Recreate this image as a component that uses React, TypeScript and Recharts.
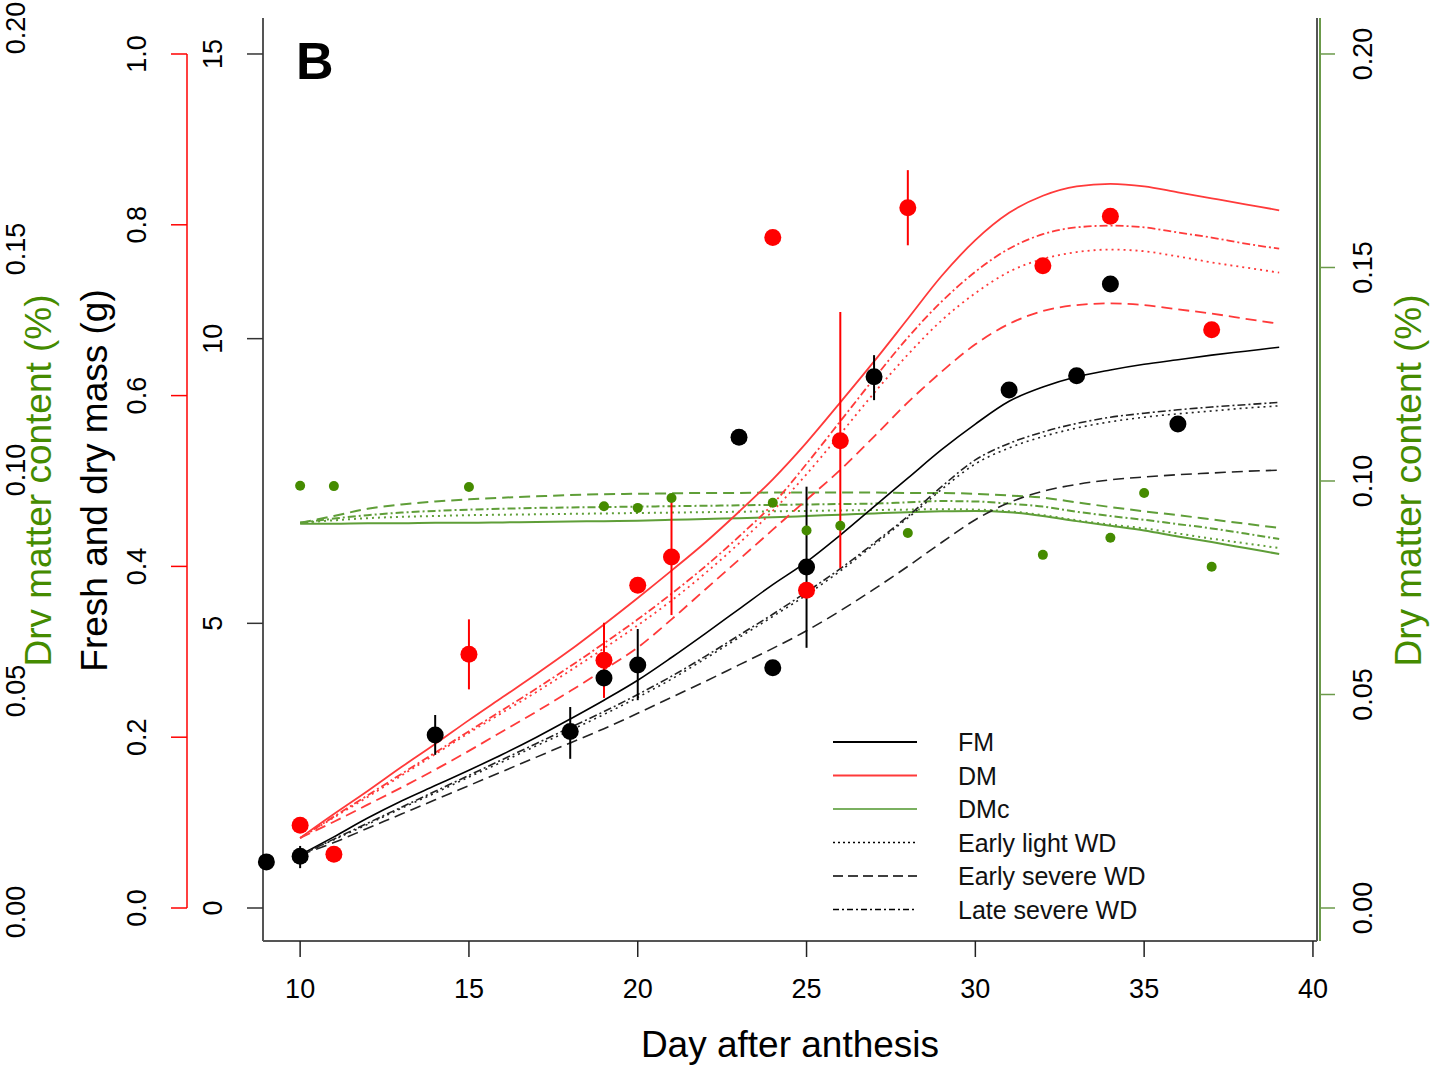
import React from 'react';
import { ComposedChart, Line, Scatter, XAxis, YAxis, ErrorBar, Legend } from 'recharts';

const FONT = '"Liberation Sans", Arial, Helvetica, sans-serif';

// ---------- fitted curves (days after anthesis 10..39) ----------
const curveDays = [10,11,12,13,14,15,16,17,18,19,20,21,22,23,24,25,26,27,28,29,30,31,32,33,34,35,36,37,38,39];

const fmControl = [0.93,1.25,1.58,1.88,2.15,2.42,2.70,3.00,3.32,3.65,4.00,4.40,4.82,5.25,5.68,6.08,6.55,7.05,7.55,8.05,8.50,8.90,9.15,9.33,9.45,9.55,9.63,9.71,9.78,9.85];
const fmEarlyLight = [0.93,1.20,1.47,1.75,2.02,2.30,2.57,2.85,3.12,3.40,3.70,4.02,4.38,4.75,5.12,5.50,5.92,6.38,6.85,7.35,7.80,8.08,8.28,8.43,8.54,8.62,8.68,8.73,8.78,8.82];
const fmEarlySevere = [0.93,1.15,1.40,1.65,1.90,2.15,2.40,2.65,2.90,3.15,3.42,3.70,3.98,4.27,4.56,4.87,5.22,5.60,6.00,6.42,6.82,7.12,7.32,7.44,7.52,7.57,7.61,7.64,7.67,7.69];
const fmLateSevere = [0.93,1.21,1.49,1.77,2.05,2.33,2.61,2.89,3.17,3.45,3.75,4.07,4.42,4.79,5.16,5.55,5.96,6.41,6.88,7.40,7.87,8.16,8.36,8.51,8.62,8.69,8.75,8.80,8.84,8.88];

const dmControl = [0.082,0.110,0.137,0.165,0.192,0.220,0.247,0.274,0.302,0.332,0.363,0.395,0.428,0.464,0.502,0.545,0.592,0.640,0.690,0.740,0.782,0.814,0.834,0.845,0.848,0.845,0.838,0.831,0.824,0.817];
const dmEarlyLight = [0.082,0.106,0.130,0.155,0.180,0.205,0.229,0.253,0.278,0.304,0.331,0.360,0.392,0.427,0.465,0.508,0.555,0.603,0.648,0.688,0.720,0.745,0.760,0.768,0.771,0.769,0.763,0.756,0.750,0.744];
const dmEarlySevere = [0.082,0.101,0.121,0.141,0.162,0.184,0.207,0.230,0.254,0.279,0.305,0.338,0.373,0.408,0.443,0.478,0.513,0.552,0.592,0.628,0.660,0.684,0.699,0.706,0.708,0.706,0.701,0.696,0.690,0.684];
const dmLateSevere = [0.082,0.107,0.132,0.157,0.182,0.207,0.232,0.257,0.283,0.310,0.338,0.368,0.400,0.435,0.473,0.520,0.570,0.620,0.668,0.710,0.745,0.772,0.789,0.797,0.799,0.797,0.791,0.785,0.778,0.772];

const dmcControl = [0.0900,0.0900,0.0901,0.0901,0.0902,0.0902,0.0903,0.0904,0.0905,0.0906,0.0907,0.0909,0.0911,0.0913,0.0915,0.0918,0.0921,0.0924,0.0927,0.0929,0.0930,0.0927,0.0918,0.0906,0.0895,0.0884,0.0870,0.0857,0.0843,0.0829];
const dmcEarlyLight = [0.0902,0.0908,0.0913,0.0916,0.0918,0.0920,0.0921,0.0922,0.0923,0.0924,0.0925,0.0926,0.0927,0.0928,0.0929,0.0930,0.0931,0.0932,0.0933,0.0934,0.0933,0.0929,0.0920,0.0908,0.0898,0.0889,0.0877,0.0865,0.0854,0.0843];
const dmcEarlySevere = [0.0902,0.0918,0.0935,0.0945,0.0952,0.0957,0.0961,0.0964,0.0967,0.0969,0.0970,0.0971,0.0972,0.0972,0.0973,0.0973,0.0973,0.0973,0.0972,0.0972,0.0970,0.0966,0.0961,0.0950,0.0939,0.0929,0.0920,0.0910,0.0900,0.0890];
const dmcLateSevere = [0.0902,0.0912,0.0920,0.0926,0.0930,0.0933,0.0935,0.0937,0.0938,0.0939,0.0940,0.0941,0.0942,0.0943,0.0944,0.0945,0.0946,0.0947,0.0950,0.0953,0.0952,0.0947,0.0940,0.0928,0.0918,0.0909,0.0899,0.0889,0.0877,0.0864];

// ---------- observations ----------
const fmObsDays = [9,10,14,18,19,20,23,24,25,27,31,33,34,36];
const fmObsValues = [0.81,0.91,3.04,3.10,4.04,4.27,8.27,4.22,5.99,9.33,9.10,9.35,10.96,8.50];
const fmObsLow = [null,0.70,2.69,2.62,null,3.65,null,null,4.57,8.92,null,null,null,null];
const fmObsHigh = [null,1.09,3.39,3.53,null,4.90,null,null,7.40,9.71,null,null,null,null];

const dmObsDays = [10,11,15,19,20,21,24,25,26,28,32,34,37];
const dmObsValues = [0.097,0.063,0.297,0.290,0.378,0.411,0.785,0.372,0.547,0.820,0.752,0.810,0.677];
const dmObsLow = [null,null,0.256,0.246,null,0.343,null,null,0.398,0.776,null,null,null];
const dmObsHigh = [null,null,0.338,0.334,null,0.484,null,null,0.698,0.864,null,null,null];

const dmcObsDays = [10,11,15,19,20,21,24,25,26,28,32,34,35,37];
const dmcObsValues = [0.0989,0.0988,0.0986,0.0941,0.0937,0.0960,0.0949,0.0884,0.0895,0.0878,0.0827,0.0867,0.0972,0.0799];

// ---------- axes ----------
const xTicks = [10,15,20,25,30,35,40];
const fmTicks = [0,5,10,15];
const dmTicks = [0,0.2,0.4,0.6,0.8,1.0];
const dmcTicks = [0,0.05,0.1,0.15,0.2];

const legendNames = ['FM','DM','DMc','Early light WD','Early severe WD','Late severe WD'];

// ---------- layout / styles ----------
const W = 1435, H = 1076;
const PLOT_TOP = 18, PLOT_H = 923;
const W_FM = 76, W_DM = 120, W_DMCL = 67;
const X_DOMAIN = [8.9, 40.12];
const FM_DOMAIN = [-0.5796, 15.632];
const DM_DOMAIN = [-0.03864, 1.04215];
const DMC_DOMAIN = [-0.007728, 0.208427];
const DMCL_DOMAIN = [-0.00656, 0.20226];

const BOX = '#555555';
const RED = '#ff0000';
const RED_LINE = '#ff3a3a';
const GREEN = '#458B00';
const GREEN_LINE = '#5f9e38';
const GREEN_AXIS = '#6b9a4a';

const DOT = '2 4';
const DASH = '11 6';
const DOTDASH = '8 3 2 3';

const rotTick = (baseX: number, color: string, fmt: (v: number) => string, extra?: (p: any) => any) => (props: any) => {
  const { y, payload } = props;
  return (
    <g>
      {extra ? extra(props) : null}
      <text x={baseX} y={y} transform={`rotate(-90 ${baseX} ${y})`} textAnchor="middle" fontSize={27} fontFamily={FONT} fill={color}>
        {fmt(payload.value)}
      </text>
    </g>
  );
};

const RED_AXIS_X = W_DMCL + W_DM;
const DM_PX = PLOT_H / (DM_DOMAIN[1] - DM_DOMAIN[0]);

const redAxisLine = (p: any) =>
  p.payload.value === 0 ? (
    <line x1={RED_AXIS_X} x2={RED_AXIS_X} y1={p.y} y2={p.y - 1.0 * DM_PX} stroke={RED} strokeWidth={1.5} />
  ) : null;

const VTitle = ({ baseX, text, color }: { baseX: number; text: string; color: string }) => {
  const cy = PLOT_TOP + PLOT_H / 2 + 1;
  return (
    <text x={baseX} y={cy} transform={`rotate(-90 ${baseX} ${cy})`} textAnchor="middle" fontSize={37} fontFamily={FONT} fill={color}>
      {text}
    </text>
  );
};

const XTitle = (props: any) => (
  <text x={790} y={1057} textAnchor="middle" fontSize={37} fontFamily={FONT} fill="#000">Day after anthesis</text>
);

const legendStyles = [
  { color: '#000', dash: undefined },
  { color: RED_LINE, dash: undefined },
  { color: '#7ab060', dash: undefined },
  { color: '#000', dash: '2 3' },
  { color: '#000', dash: '10 5' },
  { color: '#000', dash: '6 3 2 3' },
];

const LegendContent = () => (
  <svg width={420} height={215} style={{ display: 'block' }}>
    {legendNames.map((name, i) => {
      const cy = 22 + i * 33.5;
      const s = legendStyles[i];
      return (
        <g key={name}>
          <line x1={13} x2={97} y1={cy} y2={cy} stroke={s.color} strokeWidth={i < 3 ? 2 : 1.6} strokeDasharray={s.dash} />
          <text x={138} y={cy + 9} fontSize={25} fontFamily={FONT} fill="#111">{name}</text>
        </g>
      );
    })}
  </svg>
);

const bigDot = (color: string) => (p: any) => <circle cx={p.cx} cy={p.cy} r={8.5} fill={color} />;
const smallDot = (p: any) => <circle cx={p.cx} cy={p.cy} r={5} fill={GREEN} />;

export default function App() {
  const rows = curveDays.map((d, i) => ({
    day: d,
    fmC: fmControl[i], fmL: fmEarlyLight[i], fmS: fmEarlySevere[i], fmT: fmLateSevere[i],
    dmC: dmControl[i], dmL: dmEarlyLight[i], dmS: dmEarlySevere[i], dmT: dmLateSevere[i],
    dcC: dmcControl[i], dcL: dmcEarlyLight[i], dcS: dmcEarlySevere[i], dcT: dmcLateSevere[i],
  }));
  const mkObs = (days: number[], vals: number[], lo?: (number | null)[], hi?: (number | null)[]) =>
    days.map((d, i) => ({
      day: d,
      v: vals[i],
      err: [vals[i] - ((lo && lo[i]) ?? vals[i]), ((hi && hi[i]) ?? vals[i]) - vals[i]],
    }));
  const fmObs = mkObs(fmObsDays, fmObsValues, fmObsLow, fmObsHigh);
  const dmObs = mkObs(dmObsDays, dmObsValues, dmObsLow, dmObsHigh);
  const dmcObs = mkObs(dmcObsDays, dmcObsValues);

  const lineCommon = { xAxisId: 'x', dot: false, activeDot: false, isAnimationActive: false, type: 'monotone' as const };

  return (
    <div style={{ position: 'absolute', left: 0, top: 0, width: W, height: H, background: '#fff' }}>
      <ComposedChart width={W} height={H} data={rows} margin={{ top: PLOT_TOP, right: 0, bottom: 0, left: 0 }}>
        <XAxis
          xAxisId="x" dataKey="day" type="number" domain={X_DOMAIN} ticks={xTicks} height={135}
          axisLine={{ stroke: BOX, strokeWidth: 2 }} tickLine={{ stroke: '#222', strokeWidth: 1.5 }} tickSize={16}
          tick={(p: any) => (
            <text x={p.x} y={998} textAnchor="middle" fontSize={27} fontFamily={FONT} fill="#000">{p.payload.value}</text>
          )}
          label={<XTitle />}
        />
        <XAxis xAxisId="top" dataKey="day" type="number" domain={X_DOMAIN} orientation="top" height={0} allowDataOverflow
          tick={false} tickLine={false} axisLine={{ stroke: BOX, strokeWidth: 2 }} />

        <YAxis
          yAxisId="a_fm" type="number" domain={FM_DOMAIN} ticks={fmTicks} width={W_FM}
          axisLine={{ stroke: BOX, strokeWidth: 2 }} tickLine={{ stroke: '#333', strokeWidth: 1.5 }} tickSize={16}
          tick={rotTick(222, '#000', (v) => String(v))}
          label={<VTitle baseX={107} text="Fresh and dry mass (g)" color="#000" />}
        />
        <YAxis
          yAxisId="b_dm" type="number" domain={DM_DOMAIN} ticks={dmTicks} width={W_DM}
          axisLine={false} tickLine={{ stroke: RED, strokeWidth: 1.5 }} tickSize={16}
          tick={rotTick(146, '#000', (v) => v.toFixed(1), redAxisLine)}
        />
        <YAxis
          yAxisId="c_dmcL" type="number" domain={DMCL_DOMAIN} ticks={dmcTicks} width={W_DMCL} allowDataOverflow
          axisLine={false} tickLine={false} interval={0}
          tick={rotTick(25, '#000', (v) => v.toFixed(2))}
          label={<VTitle baseX={51} text="Drv matter content (%)" color={GREEN} />}
        />
        <YAxis yAxisId="a_border" orientation="right" type="number" domain={FM_DOMAIN} width={3} allowDataOverflow
          tick={false} tickLine={false} axisLine={{ stroke: BOX, strokeWidth: 2 }} />
        <YAxis
          yAxisId="b_dmc" orientation="right" type="number" domain={DMC_DOMAIN} ticks={dmcTicks} width={115}
          axisLine={{ stroke: GREEN_AXIS, strokeWidth: 2 }} tickLine={{ stroke: GREEN_AXIS, strokeWidth: 1.5 }} tickSize={15}
          tick={rotTick(1372, '#000', (v) => v.toFixed(2))}
          label={<VTitle baseX={1421} text="Dry matter content (%)" color={GREEN} />}
        />

        {/* dry matter content curves */}
        <Line {...lineCommon} yAxisId="b_dmc" dataKey="dcS" stroke={GREEN_LINE} strokeWidth={2} strokeDasharray={DASH} />
        <Line {...lineCommon} yAxisId="b_dmc" dataKey="dcT" stroke={GREEN_LINE} strokeWidth={2} strokeDasharray={DOTDASH} />
        <Line {...lineCommon} yAxisId="b_dmc" dataKey="dcL" stroke={GREEN_LINE} strokeWidth={2} strokeDasharray={DOT} />
        <Line {...lineCommon} yAxisId="b_dmc" dataKey="dcC" stroke={GREEN_LINE} strokeWidth={2} />

        {/* fresh mass curves */}
        <Line {...lineCommon} yAxisId="a_fm" dataKey="fmC" stroke="#000" strokeWidth={1.6} />
        <Line {...lineCommon} yAxisId="a_fm" dataKey="fmL" stroke="#222" strokeWidth={1.6} strokeDasharray={DOT} />
        <Line {...lineCommon} yAxisId="a_fm" dataKey="fmS" stroke="#222" strokeWidth={1.6} strokeDasharray={DASH} />
        <Line {...lineCommon} yAxisId="a_fm" dataKey="fmT" stroke="#222" strokeWidth={1.6} strokeDasharray={DOTDASH} />

        {/* dry mass curves */}
        <Line {...lineCommon} yAxisId="b_dm" dataKey="dmC" stroke={RED_LINE} strokeWidth={1.8} />
        <Line {...lineCommon} yAxisId="b_dm" dataKey="dmL" stroke={RED_LINE} strokeWidth={1.8} strokeDasharray={DOT} />
        <Line {...lineCommon} yAxisId="b_dm" dataKey="dmS" stroke={RED_LINE} strokeWidth={1.8} strokeDasharray={DASH} />
        <Line {...lineCommon} yAxisId="b_dm" dataKey="dmT" stroke={RED_LINE} strokeWidth={1.8} strokeDasharray={DOTDASH} />

        <Scatter xAxisId="x" yAxisId="b_dmc" data={dmcObs} dataKey="v" shape={smallDot} isAnimationActive={false} />
        <Scatter xAxisId="x" yAxisId="a_fm" data={fmObs} dataKey="v" shape={bigDot('#000')} isAnimationActive={false}>
          <ErrorBar dataKey="err" direction="y" width={0} stroke="#000" strokeWidth={2} />
        </Scatter>
        <Scatter xAxisId="x" yAxisId="b_dm" data={dmObs} dataKey="v" shape={bigDot(RED)} isAnimationActive={false}>
          <ErrorBar dataKey="err" direction="y" width={0} stroke={RED} strokeWidth={2} />
        </Scatter>

        <Legend
          layout="vertical" align="center" verticalAlign="middle"
          content={<LegendContent />}
          wrapperStyle={{ left: 820, top: 720, width: 420, height: 215 }}
        />
      </ComposedChart>
      <svg width={W} height={H} style={{ position: 'absolute', left: 0, top: 0, pointerEvents: 'none' }}>
        <text x={296} y={79} fontSize={52} fontWeight="bold" fontFamily={FONT} fill="#000">B</text>
      </svg>
    </div>
  );
}
